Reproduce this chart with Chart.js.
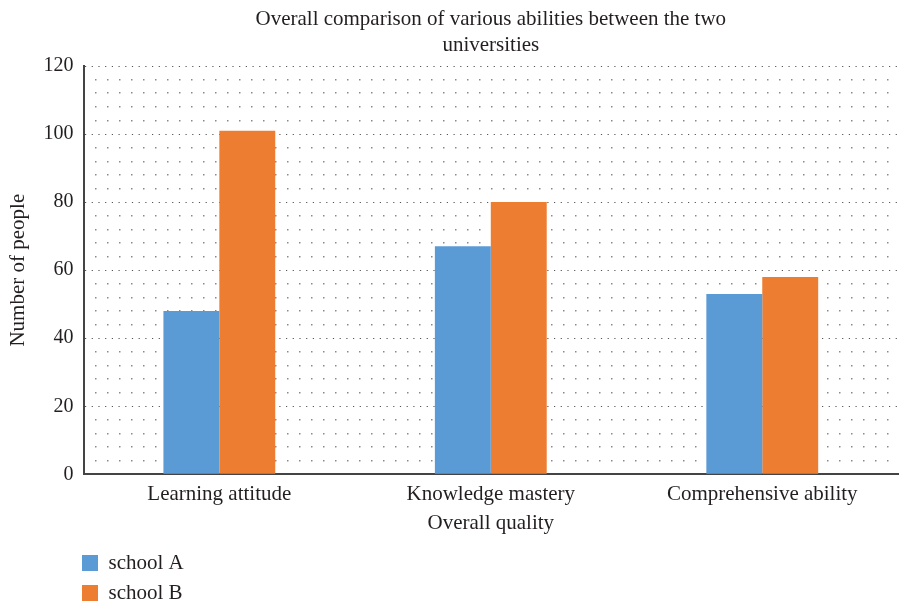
<!DOCTYPE html>
<html>
<head>
<meta charset="utf-8">
<script src="https://cdn.jsdelivr.net/npm/chart.js@4.4.1/dist/chart.umd.min.js"></script>
<style>
  html, body { margin: 0; padding: 0; background: #ffffff; }
  #wrap { width: 903px; height: 602px; }
</style>
</head>
<body>
<div id="wrap"><canvas id="c" width="903" height="602"></canvas></div>
<script>
const categories = ['Learning attitude', 'Knowledge mastery', 'Comprehensive ability'];
const schoolA = [48, 67, 53];
const schoolB = [101, 80, 58];
const seriesNames = ['school A', 'school B'];
const titleLines = ['Overall comparison of various abilities between the two', 'universities'];
const yTitle = 'Number of people';
const xTitle = 'Overall quality';

const FONT = "'Liberation Serif', 'DejaVu Serif', serif";
const TXT = '#231f20';

// stack the legend entries in one column under the plot
const legendColumn = {
  id: 'legendColumn',
  afterLayout(chart) {
    const lg = chart.legend;
    if (!lg) return;
    lg.left = 73;
    lg.right = lg.left + 150;
    lg.width = 150;
    lg.bottom = chart.height;
    lg.height = lg.bottom - lg.top;
  }
};

new Chart(document.getElementById('c'), {
  type: 'bar',
  data: {
    labels: categories,
    datasets: [
      { label: seriesNames[0], data: schoolA, backgroundColor: '#5b9bd5', borderWidth: 0 },
      { label: seriesNames[1], data: schoolB, backgroundColor: '#ed7d31', borderWidth: 0 }
    ]
  },
  options: {
    responsive: false,
    devicePixelRatio: 1,
    animation: false,
    categoryPercentage: 0.412,
    barPercentage: 1,
    layout: { padding: { left: 0, right: 5, top: 0, bottom: 18.5 } },
    plugins: {
      tooltip: { enabled: false },
      title: {
        display: true,
        text: titleLines,
        fullSize: false,
        color: TXT,
        font: { family: FONT, size: 21, weight: 'normal', lineHeight: 1.25 },
        padding: { top: 6, bottom: 7.5 }
      },
      legend: {
        display: true,
        position: 'bottom',
        align: 'start',
        labels: {
          color: TXT,
          font: { family: FONT, size: 21 },
          boxWidth: 16,
          boxHeight: 16,
          padding: 9
        }
      }
    },
    scales: {
      x: {
        grid: { display: false, drawTicks: false },
        border: { display: true, color: '#444444', width: 2 },
        ticks: { color: TXT, font: { family: FONT, size: 21, lineHeight: 1.0 }, padding: 9.5 },
        title: { display: true, text: xTitle, color: TXT, font: { family: FONT, size: 21, lineHeight: 1.0 }, padding: { top: -1.8, bottom: 10 } }
      },
      y: {
        min: 0, max: 120,
        position: 'left',
        ticks: { stepSize: 20, color: TXT, font: { family: FONT, size: 20 }, padding: 10 },
        grid: { color: '#555555', lineWidth: 1, drawTicks: false },
        border: { display: true, color: '#444444', width: 2, dash: [1.2, 5.5] },
        title: { display: true, text: yTitle, color: TXT, font: { family: FONT, size: 21 }, padding: { top: 5.4, bottom: 3 } }
      },
      yMinor: {
        min: 0, max: 120,
        position: 'left',
        ticks: { stepSize: 4, display: false },
        grid: {
          color: (ctx) => (ctx.tick && ctx.tick.value % 20 === 0) ? 'rgba(0,0,0,0)' : '#8a8a8a',
          lineWidth: 1.5,
          drawTicks: false
        },
        border: { display: false, dash: [1.5, 10.5], dashOffset: -11 }
      }
    }
  },
  plugins: [legendColumn]
});
</script>
</body>
</html>
